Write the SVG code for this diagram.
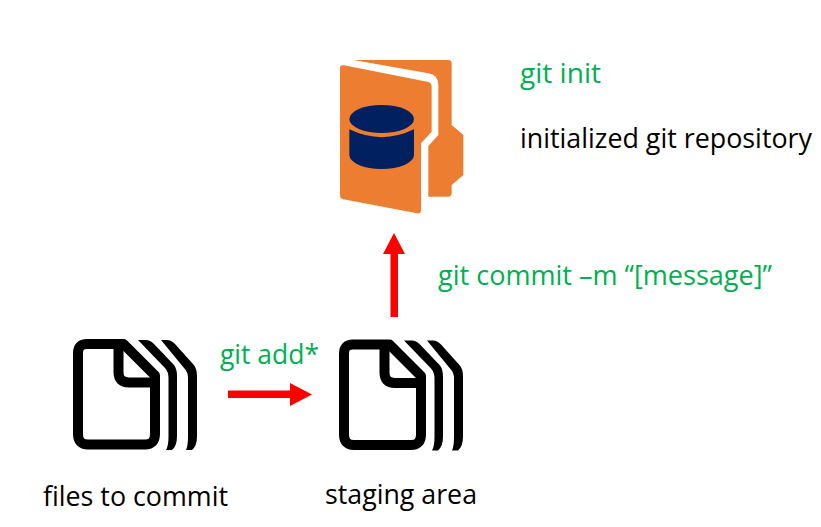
<svg xmlns="http://www.w3.org/2000/svg" xmlns:xlink="http://www.w3.org/1999/xlink" width="821" height="527" viewBox="0 0 821 527">
<style>
text{font-family:"Open Sans","Noto Sans","Liberation Sans",sans-serif;font-size:28px}
.g{fill:#00b050}.k{fill:#000}
.doc{fill:none;stroke:#000;stroke-width:10;stroke-linejoin:round;stroke-linecap:butt}
.arrow{fill:#f00}
</style>
<defs>
<g id="docs">
<path class="doc" d="M87,344H123.500L155,375.500V434Q155,444.500 145,444.500H88Q78,444.500 78,434V353Q78,344 87,344Z"/>
<path class="doc" d="M118.500,344V372Q118.500,382.500 129,382.500H157"/>
<path d="M138,340H146Q150,340 154,344L174,365Q177,369 177,376V436Q177,446 172,450H166Q168.500,446 168.500,436V378Q168.500,372 165,368Z"/>
<path d="M161,340H167Q171,340 175,344L193,364Q197,368 197,376V436Q197,446 192,450H186Q188,446 188,436V378Q188,372 184,368Z"/>
</g>
</defs>
<rect width="821" height="527" fill="#fff"/>
<g id="repository" transform="translate(320 50) scale(.33333)">
<path fill="#ed7d31" d="M100,30H385Q395,30 395,40V225L430,255V375L395,405V430Q395,440 385,440H325V288L355,255V105Q355,75 325,70Z"/>
<path fill="#ed7d31" d="M60,55Q60,44 72,46L322,95Q335,97 335,110V245L303,280V480Q303,492 291,490L70,448Q60,446 60,436Z"/>
<ellipse cx="185" cy="207" rx="97" ry="42" fill="#002060"/>
<path fill="#002060" d="M88,238Q185,285 282,238V315A97,42 0 0 1 88,315Z"/>
</g>
<g id="files-to-commit"><use href="#docs" xlink:href="#docs"/></g>
<g id="staging-area"><use href="#docs" xlink:href="#docs" x="266" y="0.500"/></g>
<g id="connectors">
<path class="arrow" d="M228,390.500H290V383L312,394.500 290,406V398H228Z"/>
<path class="arrow" d="M390.500,317V254H383L394,233 405,254H398V317Z"/>
</g>
<g id="labels">
<text class="g" x="520" y="83" textLength="81" lengthAdjust="spacingAndGlyphs">git init</text>
<text class="k" x="520" y="148" textLength="292" lengthAdjust="spacingAndGlyphs" style="font-size:26.500px">initialized git repository</text>
<text class="g" x="438" y="285" textLength="334" lengthAdjust="spacingAndGlyphs">git commit –m “[message]”</text>
<text class="g" x="220" y="364" textLength="99" lengthAdjust="spacingAndGlyphs">git add*</text>
<text class="k" x="43" y="506" textLength="185" lengthAdjust="spacingAndGlyphs">files to commit</text>
<text class="k" x="325" y="504" textLength="152" lengthAdjust="spacingAndGlyphs">staging area</text>
</g>
</svg>
